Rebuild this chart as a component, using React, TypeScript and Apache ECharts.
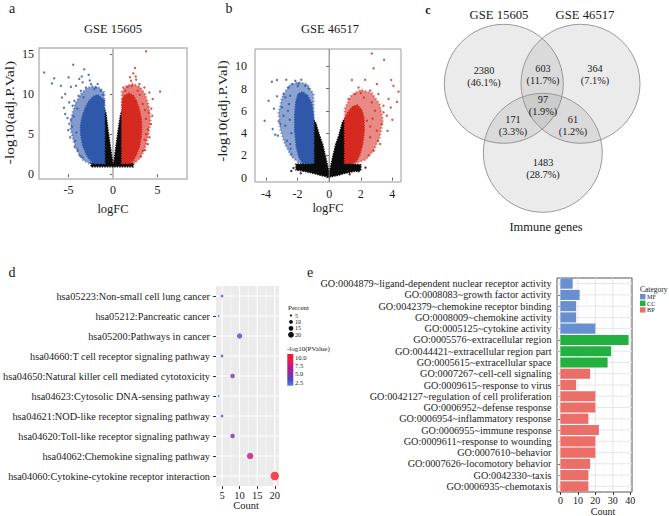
import React, { useEffect, useRef } from 'react';
import * as echarts from 'echarts';

const FONT = '"Liberation Serif", "Times New Roman", serif';

// ---------- Panel a (GSE 15605) volcano ----------
const aXTicks = [-5, 0, 5];
const aYTicks = [0, 5, 10, 15];
const aBlackCore = [[-2.45, 0.95], [-2.45, 1.4], [-1.0, 1.4], [-1.0, 8.2], [-0.8, 7.6], [-0.6, 5.8], [-0.35, 3.8], [-0.13, 2.1], [-0.03, 1.35], [0.08, 1.35], [0.18, 2.1], [0.38, 3.8], [0.6, 5.6], [0.85, 7.4], [1.0, 7.9], [1.0, 1.4], [2.25, 1.4], [2.25, 0.95]];
const aBlueCore = [[-0.97, 1.35], [-0.97, 9.2], [-1.3, 9.5], [-1.7, 9.9], [-2.2, 9.7], [-2.7, 9.1], [-3.1, 8.3], [-3.45, 7.2], [-3.65, 6.0], [-3.6, 4.8], [-3.4, 3.6], [-3.05, 2.6], [-2.65, 1.85], [-2.2, 1.4]];
const aBlueHalo = [[-0.97, 1.3], [-0.97, 10.2], [-1.5, 10.8], [-2.3, 11.0], [-3.0, 10.7], [-3.6, 10.0], [-4.25, 8.8], [-4.65, 7.2], [-4.75, 5.6], [-4.4, 4.0], [-3.9, 2.6], [-3.3, 1.7], [-2.6, 1.3]];
const aRedCore = [[1.01, 1.4], [1.01, 9.2], [1.3, 9.8], [1.8, 10.1], [2.3, 9.8], [2.65, 9.1], [3.0, 7.9], [3.2, 6.6], [3.2, 5.0], [3.0, 3.6], [2.65, 2.5], [2.3, 1.75], [1.8, 1.4]];
const aRedHalo = [[1.0, 1.3], [1.0, 10.3], [1.5, 11.0], [2.2, 11.3], [3.0, 10.9], [3.6, 10.0], [4.0, 8.6], [4.2, 6.8], [4.0, 5.0], [3.6, 3.3], [3.1, 2.1], [2.4, 1.35]];
const aBlueOut = [[-7.72, 12.7], [-6.59, 11.96], [-6.85, 11.33], [-5.84, 11.04], [-4.98, 12.08], [-4.46, 13.67], [-3.22, 13.1], [-2.73, 12.4], [-3.78, 11.9], [-4.72, 10.9], [-4.16, 11.04], [-5.36, 10.0], [-3.41, 11.46], [-4.91, 8.96], [-5.36, 7.5], [-4.53, 8.54], [-5.02, 5.5], [-4.23, 4.17], [-4.72, 6.75], [-3.86, 9.79], [-4.34, 9.17], [-3.03, 10.83], [-1.91, 10.83], [-1.16, 9.9], [-5.73, 9.58], [-3.6, 10.4], [-2.47, 11.25], [-1.72, 11.25], [-3.97, 3.0], [-3.41, 2.08], [-4.4, 7.2], [-4.1, 5.2], [-4.6, 5.9], [-3.3, 9.6], [-2.1, 10.6], [-1.4, 10.4], [-4.0, 8.2], [-3.7, 2.3], [-4.3, 3.4], [-4.9, 6.3], [-5.1, 7.0], [-4.8, 4.6], [-5.5, 8.3], [-2.6, 11.7], [-3.5, 12.2]];
const aRedOut = [[3.71, 15.33], [5.28, 10.33], [2.47, 13.25], [2.28, 12.58], [2.55, 12.2], [2.02, 11.67], [1.16, 10.83], [1.65, 10.9], [2.96, 11.25], [3.52, 10.83], [4.08, 10.2], [4.46, 9.38], [4.0, 7.7], [4.27, 6.25], [3.71, 5.0], [3.9, 3.75], [3.33, 2.9], [3.71, 6.9], [3.33, 8.75], [2.77, 10.4], [1.39, 10.4], [3.6, 8.0], [3.55, 4.3], [3.0, 9.9], [2.1, 11.0], [3.9, 5.6], [3.1, 2.2], [3.6, 3.0], [4.4, 7.3], [4.1, 4.6], [2.6, 11.8], [1.9, 12.1], [4.3, 8.2]];

// ---------- Panel b (GSE 46517) volcano ----------
const bXTicks = [-4, -2, 0, 2, 4];
const bYTicks = [0, 2, 4, 6, 8, 10];
const bBlackCore = [[0, 0.05], [0.5, 0.2], [1.0, 0.4], [1.5, 0.55], [2.0, 0.65], [2.0, 1.15], [1.0, 1.3], [1.0, 5.3], [0.85, 5.0], [0.62, 3.8], [0.42, 3.0], [0.22, 1.8], [0.08, 0.9], [0, 0.6], [-0.08, 0.9], [-0.22, 1.8], [-0.42, 3.0], [-0.62, 3.8], [-0.85, 4.9], [-1.0, 5.2], [-1.0, 1.3], [-2.1, 1.2], [-2.1, 0.7], [-1.5, 0.55], [-1.0, 0.4], [-0.5, 0.2]];
const bBlueCore = [[-0.99, 1.32], [-0.99, 5.6], [-1.12, 6.7], [-1.38, 7.4], [-1.7, 7.7], [-1.98, 7.5], [-2.12, 6.7], [-2.18, 5.6], [-2.18, 4.2], [-2.08, 2.8], [-1.92, 1.85], [-1.7, 1.32]];
const bBlueHalo = [[-0.99, 1.3], [-0.99, 7.5], [-1.4, 8.4], [-2.0, 8.6], [-2.6, 8.2], [-3.0, 7.2], [-3.2, 5.8], [-3.1, 4.3], [-2.8, 3.0], [-2.4, 1.9], [-1.9, 1.3]];
const bRedCore = [[0.99, 1.32], [0.99, 5.26], [1.2, 5.9], [1.5, 6.4], [1.8, 6.5], [2.05, 6.1], [2.2, 5.4], [2.22, 4.2], [2.12, 3.0], [1.95, 2.1], [1.75, 1.53], [1.5, 1.32]];
const bRedHalo = [[0.99, 1.3], [0.99, 6.2], [1.4, 7.4], [2.0, 7.9], [2.7, 7.6], [3.2, 6.6], [3.4, 5.2], [3.2, 3.6], [2.8, 2.4], [2.3, 1.6], [1.7, 1.3]];
const bBlueOut = [[-3.63, 8.61], [-3.31, 8.76], [-2.72, 8.79], [-2.15, 8.7], [-1.77, 8.79], [-3.84, 6.91], [-4.09, 5.11], [-3.58, 4.37], [-3.42, 3.86], [-3.25, 3.77], [-3.2, 5.05], [-2.89, 5.56], [-2.99, 6.31], [-2.78, 7.21], [-2.57, 8.1], [-2.36, 8.4], [-2.78, 4.67], [-2.68, 3.32], [-2.47, 3.02], [-2.61, 6.01], [-2.89, 7.51], [-2.47, 7.36], [-1.94, 8.4], [-1.52, 8.25], [-3.1, 4.82], [-2.4, 2.13], [-2.5, 5.2], [-2.55, 6.6], [-2.4, 4.0], [-2.45, 2.6], [-1.3, 8.0], [-2.0, 8.2], [-3.5, 6.2], [-3.3, 7.3]];
const bRedOut = [[2.7, 11.15], [3.48, 10.59], [2.81, 9.81], [1.44, 8.76], [2.28, 8.79], [3.02, 8.4], [3.93, 8.76], [4.39, 7.72], [3.76, 7.06], [3.12, 7.51], [2.6, 7.81], [1.86, 8.1], [3.44, 5.86], [3.65, 5.56], [3.34, 4.82], [3.02, 4.22], [3.23, 3.02], [2.81, 2.42], [2.6, 3.62], [2.91, 6.01], [2.7, 6.76], [4.07, 8.25], [2.39, 5.11], [3.44, 6.46], [1.65, 7.51], [1.23, 7.06], [2.5, 2.0], [2.6, 4.6], [2.2, 7.2], [3.1, 3.3], [2.75, 5.3], [2.0, 7.6], [4.3, 6.8], [3.9, 6.3], [3.7, 4.2], [4.0, 5.2]];
const bBlackOut = [[-2.26, 0.87], [-2.4, 0.6], [1.86, 0.57], [2.3, 0.9], [-1.8, 0.4], [1.3, 0.3]];

// ---------- Panel c Venn ----------
const vennSets = ['GSE 15605', 'GSE 46517', 'Immune genes'];
const vennCounts = [2380, 603, 364, 97, 171, 61, 1483];
const vennPercents = ['46.1%', '11.7%', '7.1%', '1.9%', '3.3%', '1.2%', '28.7%'];

// ---------- Panel d KEGG bubble ----------
const keggTerms = [
  'hsa05223:Non-small cell lung cancer',
  'hsa05212:Pancreatic cancer',
  'hsa05200:Pathways in cancer',
  'hsa04660:T cell receptor signaling pathway',
  'hsa04650:Natural killer cell mediated cytotoxicity',
  'hsa04623:Cytosolic DNA-sensing pathway',
  'hsa04621:NOD-like receptor signaling pathway',
  'hsa04620:Toll-like receptor signaling pathway',
  'hsa04062:Chemokine signaling pathway',
  'hsa04060:Cytokine-cytokine receptor interaction',
];
const keggCount = [5, 4, 10, 5, 8, 4, 5, 8, 13, 20];
const keggPercent = [5.5, 4.4, 11, 5.5, 8.8, 4.4, 5.5, 8.8, 14.3, 22];
const keggLogP = [2.6, 1.4, 3.2, 2.6, 4.6, 1.4, 2.6, 4.6, 7.4, 11.1];
const keggXTicks = [5, 10, 15, 20];
const keggMinor = [7.5, 12.5, 17.5];
const percentBreaks = [5, 10, 15, 20];
const logPBreaks = [10.0, 7.5, 5.0, 2.5];

// ---------- Panel e GO bars ----------
const goTerms = [
  'GO:0004879~ligand-dependent nuclear receptor activity',
  'GO:0008083~growth factor activity',
  'GO:0042379~chemokine receptor binding',
  'GO:0008009~chemokine activity',
  'GO:0005125~cytokine activity',
  'GO:0005576~extracellular region',
  'GO:0044421~extracellular region part',
  'GO:0005615~extracellular space',
  'GO:0007267~cell-cell signaling',
  'GO:0009615~response to virus',
  'GO:0042127~regulation of cell proliferation',
  'GO:0006952~defense response',
  'GO:0006954~inflammatory response',
  'GO:0006955~immune response',
  'GO:0009611~response to wounding',
  'GO:0007610~behavior',
  'GO:0007626~locomotory behavior',
  'GO:0042330~taxis',
  'GO:0006935~chemotaxis',
];
const goCategory = ['MF', 'MF', 'MF', 'MF', 'MF', 'CC', 'CC', 'CC', 'BP', 'BP', 'BP', 'BP', 'BP', 'BP', 'BP', 'BP', 'BP', 'BP', 'BP'];
const goCount = [7, 11, 9, 9, 20, 39, 29, 27, 17, 9, 20, 20, 16, 22, 20, 20, 17, 16, 16];
const goCategories = ['MF', 'CC', 'BP'];
const goXTicks = [0, 10, 20, 30, 40];
const goMinor = [5, 15, 25, 35];

const catColor: Record<string, string> = { MF: '#6890d0', CC: '#22b040', BP: '#ec6e68' };
const BLUE = '#2f58aa';
const RED = '#d62a20';
const BLACK = '#0b0b0b';
const gradStops = ['#4a7ee0', '#5046c2', '#8a2aa8', '#c4128a', '#ec1650', '#f41c24'];
const LOGP_MIN = 1.36;
const LOGP_MAX = 11.14;

const sizeFn = (p: number) => Math.sqrt(4 + ((p - 4.4) / (22 - 4.4)) * 68);

function polySeries(axis: number, poly: number[][], color: string, z: number, opacity = 1, dashed = false) {
  return {
    type: 'custom', coordinateSystem: 'cartesian2d', xAxisIndex: axis, yAxisIndex: axis, z, silent: true,
    data: [poly[0]],
    renderItem: (_p: any, api: any) => ({
      type: 'polygon',
      shape: { points: poly.map((pt) => api.coord(pt)) },
      style: dashed
        ? { fill: color, opacity, stroke: color, lineWidth: 2.4, lineDash: [1.2, 2.2] }
        : { fill: color, opacity, stroke: color, lineWidth: 1.6, lineDash: [1.5, 1] },
    }),
  };
}

function vLines(axis: number, values: number[], color: string, width: number, z: number) {
  return {
    type: 'custom', coordinateSystem: 'cartesian2d', xAxisIndex: axis, yAxisIndex: axis, z, silent: true,
    data: values.map((v) => [v, 0]),
    renderItem: (params: any, api: any) => {
      const cs = params.coordSys;
      const x = api.coord([api.value(0), api.value(1)])[0];
      return { type: 'line', shape: { x1: x, y1: cs.y, x2: x, y2: cs.y + cs.height }, style: { stroke: color, lineWidth: width } };
    },
  };
}

function hLines(axis: number, count: number, xRef: number, color: string, width: number, z: number) {
  return {
    type: 'custom', coordinateSystem: 'cartesian2d', xAxisIndex: axis, yAxisIndex: axis, z, silent: true,
    data: Array.from({ length: count }, (_, i) => [xRef, i]),
    renderItem: (params: any, api: any) => {
      const cs = params.coordSys;
      const y = api.coord([api.value(0), api.value(1)])[1];
      return { type: 'line', shape: { x1: cs.x, y1: y, x2: cs.x + cs.width, y2: y }, style: { stroke: color, lineWidth: width } };
    },
  };
}

function pts(axis: number, data: number[][], color: string, z: number) {
  return { type: 'scatter', xAxisIndex: axis, yAxisIndex: axis, data, symbolSize: 2.4, itemStyle: { color }, z, silent: true };
}

function txt(x: number, y: number, text: string, size: number, opts: any = {}) {
  const align = opts.align || 'center';
  return {
    type: 'text', x, y, rotation: opts.rotation || 0, scaleX: opts.scaleX || 1, scaleY: opts.scaleY || 1, silent: true, z: 50,
    style: {
      text, fontSize: size, fontFamily: FONT, fontWeight: opts.bold ? 'bold' : 'normal', fill: opts.color || '#1a1a1a',
      align, textAlign: align, verticalAlign: 'middle', textVerticalAlign: 'middle',
    },
  };
}

function valueAxis(grid: number, min: number, max: number, ticks: number[], fontSize: number, margin: number, tickColor: string) {
  return {
    gridIndex: grid, type: 'value', min, max,
    axisLine: { show: false }, splitLine: { show: false },
    axisTick: { show: true, length: 3, customValues: ticks, lineStyle: { color: tickColor, width: 1 } },
    axisLabel: { customValues: ticks, margin, fontSize, fontFamily: FONT, color: '#1a1a1a' },
  };
}

export default function App() {
  const ref = useRef<HTMLDivElement>(null);
  useEffect(() => {
    if (!ref.current) return;
    const chart = echarts.init(ref.current, null, { renderer: 'svg' });

    const series: any[] = [];
    // Panel a
    series.push(vLines(0, [0], '#bdbdbd', 2, 1));
    series.push(polySeries(0, aBlackCore, BLACK, 2));
    series.push(polySeries(0, aBlueHalo, BLUE, 3, 0.6, true));
    series.push(polySeries(0, aRedHalo, RED, 3, 0.6, true));
    series.push(polySeries(0, aBlueCore, BLUE, 3));
    series.push(polySeries(0, aRedCore, RED, 3));
    series.push(pts(0, aBlueOut, BLUE, 4));
    series.push(pts(0, aRedOut, RED, 4));
    // Panel b
    series.push(polySeries(1, bBlackCore, BLACK, 2));
    series.push(polySeries(1, bBlueHalo, BLUE, 3, 0.55, true));
    series.push(polySeries(1, bRedHalo, RED, 3, 0.55, true));
    series.push(polySeries(1, bBlueCore, BLUE, 3));
    series.push(polySeries(1, bRedCore, RED, 3));
    series.push(pts(1, bBlackOut, BLACK, 4));
    series.push(pts(1, bBlueOut, BLUE, 4));
    series.push(pts(1, bRedOut, RED, 4));
    series.push(vLines(1, [0], '#777', 1, 5));
    // Panel d
    series.push(vLines(2, keggMinor, '#ffffff', 0.5, 1));
    series.push(vLines(2, keggXTicks, '#ffffff', 1.1, 1));
    series.push(hLines(2, keggTerms.length, 10, '#ffffff', 1.1, 1));
    const dIndex = series.length;
    series.push({
      type: 'scatter', xAxisIndex: 2, yAxisIndex: 2, z: 4, silent: true,
      data: keggTerms.map((_, i) => [keggCount[i], i, keggLogP[i], keggPercent[i]]),
      symbolSize: (val: number[]) => sizeFn(val[3]),
    });
    // Panel e
    series.push(vLines(3, goMinor, '#f0f0f0', 0.5, 1));
    series.push(vLines(3, goXTicks, '#e6e6e6', 1, 1));
    series.push(hLines(3, goTerms.length, 10, '#e6e6e6', 1, 1));
    series.push({
      type: 'bar', xAxisIndex: 3, yAxisIndex: 3, z: 4, silent: true, barCategoryGap: '10%',
      data: goCount.map((v, i) => ({ value: v, itemStyle: { color: catColor[goCategory[i]] } })),
    });

    const vennLayout = [[484, 70], [543, 68], [595, 68], [543, 99.5], [513, 119.5], [573, 119.5], [543, 162]];

    const graphics: any[] = [
      txt(12, 8.5, 'a', 14), txt(229, 8.5, 'b', 14), txt(428, 10, 'c', 12, { bold: true }),
      txt(12, 272, 'd', 14), txt(310, 272, 'e', 14),
      txt(113, 29, 'GSE 15605', 12.5), txt(330, 29, 'GSE 46517', 12.5),
      txt(113, 209, 'logFC', 12.5), txt(328, 208, 'logFC', 12.5),
      txt(10, 112.5, '-log10(adj.P.Val)', 12.5, { rotation: Math.PI / 2, scaleX: 1.22 }),
      txt(223, 111, '-log10(adj.P.Val)', 12.5, { rotation: Math.PI / 2, scaleX: 1.2 }),
      { type: 'circle', z: 5, silent: true, shape: { cx: 503.8, cy: 83.8, r: 59.5 }, style: { fill: 'rgba(130,130,130,0.16)', stroke: '#9a9a9a', lineWidth: 1 } },
      { type: 'circle', z: 5, silent: true, shape: { cx: 580.5, cy: 83.8, r: 59.5 }, style: { fill: 'rgba(130,130,130,0.16)', stroke: '#9a9a9a', lineWidth: 1 } },
      { type: 'circle', z: 5, silent: true, shape: { cx: 542.8, cy: 152.8, r: 59.5 }, style: { fill: 'rgba(130,130,130,0.16)', stroke: '#9a9a9a', lineWidth: 1 } },
      txt(499, 15, vennSets[0], 12.7), txt(585, 15, vennSets[1], 12.7), txt(546, 227, vennSets[2], 12.5),
      txt(246, 505.5, 'Count', 10.5), txt(603, 511.5, 'Count', 10),
      txt(288, 307.5, 'Percent', 7, { align: 'left' }),
      txt(287, 349, '-log10(PValue)', 7, { align: 'left' }),
      {
        type: 'rect', z: 50, silent: true, shape: { x: 287.3, y: 354, width: 6, height: 31.7 },
        style: {
          fill: new echarts.graphic.LinearGradient(0, 1, 0, 0, gradStops.map((c, i) => ({ offset: i / (gradStops.length - 1), color: c }))),
        },
      },
      txt(640, 289, 'Category', 7.5, { align: 'left' }),
    ];
    vennCounts.forEach((c, i) => {
      const [x, y] = vennLayout[i];
      graphics.push(txt(x, y, String(c), 10.3));
      graphics.push(txt(x, y + 12.3, '(' + vennPercents[i] + ')', 10.3));
    });
    const pY = [315.5, 321.9, 328.3, 334.7];
    const pR = [1.1, 1.9, 2.4, 2.9];
    percentBreaks.forEach((b, i) => {
      graphics.push({ type: 'circle', z: 50, silent: true, shape: { cx: 291, cy: pY[i], r: pR[i] }, style: { fill: '#111' } });
      graphics.push(txt(295, pY[i], String(b), 6, { align: 'left' }));
    });
    logPBreaks.forEach((b) => {
      const y = 385.7 - ((b - LOGP_MIN) / (LOGP_MAX - LOGP_MIN)) * 31.7;
      graphics.push(txt(295, y, b.toFixed(1), 6.5, { align: 'left' }));
    });
    goCategories.forEach((c, i) => {
      const y = 294 + i * 6.6;
      graphics.push({ type: 'rect', z: 50, silent: true, shape: { x: 640, y, width: 5.5, height: 5.4 }, style: { fill: catColor[c] } });
      graphics.push(txt(647, y + 2.7, c, 6.2, { align: 'left' }));
    });

    const option: any = {
      animation: false,
      textStyle: { fontFamily: FONT },
      grid: [
        { left: 39, top: 48, width: 148, height: 131, show: true, borderColor: '#b8b8b8', borderWidth: 1.5, backgroundColor: '#fff' },
        { left: 255, top: 49, width: 146, height: 133, show: true, borderColor: '#9a9a9a', borderWidth: 1, backgroundColor: '#fff' },
        { left: 209, top: 286, width: 70, height: 200, show: true, borderWidth: 0, borderColor: 'transparent', backgroundColor: '#ebebeb' },
        { left: 557, top: 278, width: 75, height: 214, show: true, borderColor: '#555', borderWidth: 1, backgroundColor: '#fff' },
      ],
      xAxis: [
        valueAxis(0, -8.3, 8.3, aXTicks, 12, 5, '#666'),
        valueAxis(1, -4.7, 4.55, bXTicks, 12, 6, '#666'),
        valueAxis(2, 3.3, 21.2, keggXTicks, 10.5, 4, '#333'),
        valueAxis(3, -1.95, 40.95, goXTicks, 10, 3, '#333'),
      ],
      yAxis: [
        valueAxis(0, -0.6, 15.75, aYTicks, 12, 5, '#666'),
        valueAxis(1, -0.39, 11.55, bYTicks, 12, 8, '#666'),
        {
          gridIndex: 2, type: 'category', data: keggTerms, inverse: true,
          axisLine: { show: false }, splitLine: { show: false },
          axisTick: { show: true, alignWithLabel: true, length: 3, lineStyle: { color: '#333' } },
          axisLabel: { interval: 0, fontSize: 10.3, fontFamily: FONT, color: '#1a1a1a', margin: 6 },
        },
        {
          gridIndex: 3, type: 'category', data: goTerms, inverse: true,
          axisLine: { show: false }, splitLine: { show: false },
          axisTick: { show: true, alignWithLabel: true, length: 3, lineStyle: { color: '#333' } },
          axisLabel: { interval: 0, fontSize: 10.2, fontFamily: FONT, color: '#1a1a1a', margin: 5.5 },
        },
      ],
      visualMap: [{
        type: 'continuous', show: false, seriesIndex: dIndex, dimension: 2,
        min: LOGP_MIN, max: LOGP_MAX, inRange: { color: gradStops },
      }],
      series,
      graphic: { elements: graphics },
    };
    chart.setOption(option);
    return () => chart.dispose();
  }, []);
  return <div ref={ref} style={{ position: 'absolute', left: 0, top: 0, width: 669, height: 516, background: '#fff' }} />;
}
